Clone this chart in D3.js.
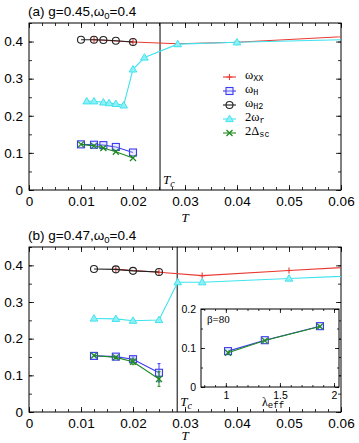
<!DOCTYPE html>
<html>
<head>
<meta charset="utf-8">
<script src="https://cdn.jsdelivr.net/npm/d3@7"></script>
<style>
  body { margin: 0; background: #fff; }
  svg { display: block; }
</style>
</head>
<body>
<div id="chart"></div>
<script>
// ---- data: panel (a) g=0.45
const aH2T = [0.01, 0.0125, 0.0143, 0.0167, 0.02];
const aH2 = [0.405, 0.405, 0.404, 0.402, 0.399];
const aXXT = [0.0125, 0.02, 0.0286, 0.04, 0.0667];
const aXX = [0.405, 0.399, 0.394, 0.398, 0.418];
const aRT = [0.0111, 0.0125, 0.0143, 0.0154, 0.0167, 0.0182, 0.02, 0.0222, 0.0286, 0.04, 0.0667];
const aR = [0.239, 0.239, 0.236, 0.234, 0.232, 0.228, 0.325, 0.357, 0.393, 0.398, 0.407];
const aH = [0.123, 0.122, 0.121, 0.116, 0.101];
const aSC = [0.123, 0.119, 0.113, 0.103, 0.086];
const aTc = 0.0252;

// ---- data: panel (b) g=0.47
const bH2T = [0.0125, 0.0167, 0.02, 0.025];
const bH2 = [0.390, 0.389, 0.385, 0.382];
const bXXT = [0.0167, 0.025, 0.0333, 0.05, 0.0667];
const bXX = [0.389, 0.381, 0.372, 0.386, 0.399];
const bRT = [0.0125, 0.0167, 0.02, 0.025, 0.0286, 0.0333, 0.05, 0.0667];
const bR = [0.255, 0.254, 0.249, 0.251, 0.354, 0.354, 0.364, 0.374];
const bH = [0.153, 0.151, 0.144, 0.107];
const bHerr = [0, 0, 0.006, 0.025];
const bSC = [0.154, 0.149, 0.137, 0.090];
const bSCerr = [0, 0.003, 0.008, 0.02];
const bTc = 0.0285;

// ---- inset (beta=80)
const lam = [1.02, 1.36, 1.87];
const insH = [0.092, 0.120, 0.156];
const insSC = [0.088, 0.119, 0.155];

const xTicks = [0, 0.01, 0.02, 0.03, 0.04, 0.05, 0.06];
const yTicks = [0, 0.1, 0.2, 0.3, 0.4];

const C = { xx: "#e83a32", h: "#3c3cf0", h2: "#222", r: "#3fe3ef", sc: "#1f8a1f" };
const FONT = "'Liberation Sans', Arial, sans-serif";

const W = 359, H = 443;
const svg = d3.select("#chart").append("svg").attr("width", W).attr("height", H);
const defs = svg.append("defs");

function marker(g, type, x, y, color) {
  if (type === "plus") {
    g.append("path").attr("d", `M${x-3},${y}H${x+3}M${x},${y-3}V${y+3}`)
      .attr("stroke", color).attr("stroke-width", 1.1);
  } else if (type === "square") {
    g.append("rect").attr("x", x-3.5).attr("y", y-3.5).attr("width", 7).attr("height", 7)
      .attr("fill", "#c8c8ff").attr("fill-opacity", 0.35).attr("stroke", color).attr("stroke-width", 1.1);
  } else if (type === "circle") {
    g.append("circle").attr("cx", x).attr("cy", y).attr("r", 3.5)
      .attr("fill", "none").attr("stroke", color).attr("stroke-width", 1.1);
  } else if (type === "tri") {
    g.append("path").attr("d", `M${x},${y-3.8}L${x+3.8},${y+2.6}L${x-3.8},${y+2.6}Z`)
      .attr("fill", "#8ff0f6").attr("stroke", color).attr("stroke-width", 1);
  } else if (type === "x") {
    g.append("path").attr("d", `M${x-3},${y-3}L${x+3},${y+3}M${x-3},${y+3}L${x+3},${y-3}`)
      .attr("stroke", color).attr("stroke-width", 1.3);
  }
}

function series(g, x, y, ts, vs, color, type, errs) {
  const pts = ts.map((t, i) => [x(t), y(vs[i])]);
  g.append("path").attr("d", d3.line()(pts)).attr("fill", "none")
    .attr("stroke", color).attr("stroke-width", 1.1);
  if (errs) {
    pts.forEach((p, i) => {
      if (!errs[i]) return;
      const y1 = y(vs[i] - errs[i]), y2 = y(vs[i] + errs[i]);
      g.append("path").attr("d", `M${p[0]},${y1}V${y2}M${p[0]-1.5},${y1}H${p[0]+1.5}M${p[0]-1.5},${y2}H${p[0]+1.5}`)
        .attr("stroke", color).attr("stroke-width", 1);
    });
  }
  pts.forEach(p => marker(g, type, p[0], p[1], color));
}

function frameAxes(g, x, y, opt) {
  const [x0, x1] = x.range(), [y0, y1] = y.range();
  [[d3.axisBottom, y0, true], [d3.axisTop, y1, false]].forEach(([mk, pos, lab]) => {
    g.append("g").attr("transform", `translate(0,${pos})`)
      .call(mk(x).tickValues(opt.xTicks).tickSize(-opt.major).tickPadding(opt.xPad)
        .tickFormat(lab ? opt.xFmt : ""))
      .call(s => s.select(".domain").remove());
    g.append("g").attr("transform", `translate(0,${pos})`)
      .call(mk(x).tickValues(opt.xMinor).tickSize(-opt.minor).tickFormat(""))
      .call(s => s.select(".domain").remove());
  });
  [[d3.axisLeft, x0, true], [d3.axisRight, x1, false]].forEach(([mk, pos, lab]) => {
    g.append("g").attr("transform", `translate(${pos},0)`)
      .call(mk(y).tickValues(opt.yTicks).tickSize(-opt.major).tickPadding(opt.yPad)
        .tickFormat(lab ? opt.yFmt : ""))
      .call(s => s.select(".domain").remove());
    g.append("g").attr("transform", `translate(${pos},0)`)
      .call(mk(y).tickValues(opt.yMinor).tickSize(-opt.minor).tickFormat(""))
      .call(s => s.select(".domain").remove());
  });
  g.selectAll(".tick line").attr("stroke", "#000").attr("stroke-width", 0.8);
  g.selectAll(".tick text").attr("fill", "#000").style("font-family", FONT).style("font-size", opt.fs + "px");
  g.append("rect").attr("x", x0).attr("y", y1).attr("width", x1 - x0).attr("height", y0 - y1)
    .attr("fill", "none").attr("stroke", "#000").attr("stroke-width", 1);
}

function tcLabel(g, px, py) {
  const t = g.append("text").attr("x", px).attr("y", py)
    .style("font-family", "'Liberation Serif', 'DejaVu Serif', serif").style("font-style", "italic").style("font-size", "13px");
  t.append("tspan").text("T");
  t.append("tspan").attr("dy", 3).style("font-size", "10px").text("c");
}

function panel(id, top, bottom, title, tLabelY, d) {
  const g = svg.append("g");
  const x = d3.scaleLinear().domain([0, 0.06]).range([29, 341]);
  const y = d3.scaleLinear().domain([0, 0.45]).range([bottom, top]);

  defs.append("clipPath").attr("id", "clip" + id).append("rect")
    .attr("x", 29).attr("y", top).attr("width", 312).attr("height", bottom - top);

  const fmt = v => v === 0 ? "0" : d3.format(".2~f")(v);
  frameAxes(g, x, y, {
    xTicks, yTicks, major: 5, minor: 3, xPad: 6, yPad: 6, fs: 13.5,
    xFmt: fmt, yFmt: v => v === 0 ? "0" : d3.format(".1f")(v),
    xMinor: d3.range(0, 0.0601, 0.0025), yMinor: d3.range(0, 0.451, 0.05)
  });

  // title
  const tt = g.append("text").attr("x", 28).attr("y", top - 7)
    .style("font-family", FONT).style("font-size", "13.5px");
  tt.append("tspan").text(title);
  tt.append("tspan").attr("dy", 3).style("font-size", "9.5px").text("0");
  tt.append("tspan").attr("dy", -3).text("=0.4");

  // T axis label
  g.append("text").attr("x", 185).attr("y", tLabelY).attr("text-anchor", "middle")
    .style("font-family", "'Liberation Serif', serif").style("font-style", "italic").style("font-size", "13px").text("T");

  // Tc line
  g.append("line").attr("x1", x(d.tc)).attr("x2", x(d.tc)).attr("y1", top).attr("y2", bottom)
    .attr("stroke", "#000").attr("stroke-width", 1);
  tcLabel(g, x(d.tc) + 3, bottom - 6);

  const pg = g.append("g").attr("clip-path", `url(#clip${id})`);
  series(pg, x, y, d.xxT, d.xx, C.xx, "plus");
  series(pg, x, y, d.hT, d.h, C.h, "square", d.hErr);
  series(pg, x, y, d.h2T, d.h2, C.h2, "circle");
  series(pg, x, y, d.rT, d.r, C.r, "tri");
  series(pg, x, y, d.hT, d.sc, C.sc, "x", d.scErr);
  return g;
}

panel("a", 23, 190, "(a) g=0.45,ω", 222, {
  tc: aTc, xxT: aXXT, xx: aXX, hT: aH2T, h: aH, h2T: aH2T, h2: aH2, rT: aRT, r: aR, sc: aSC
});
panel("b", 247, 412, "(b) g=0.47,ω", 440, {
  tc: bTc, xxT: bXXT, xx: bXX, hT: bH2T, h: bH, hErr: bHerr, h2T: bH2T, h2: bH2, rT: bRT, r: bR,
  sc: bSC, scErr: bSCerr
});

// ---- legend (panel a)
const legend = [
  { type: "plus", c: C.xx, pre: "ω", sub: "XX" },
  { type: "square", c: C.h, pre: "ω", sub: "H" },
  { type: "circle", c: C.h2, pre: "ω", sub: "H2" },
  { type: "tri", c: C.r, pre: "2ω", sub: "r" },
  { type: "x", c: C.sc, pre: "2Δ", sub: "sc" }
];
const lg = svg.append("g");
legend.forEach((e, i) => {
  const yy = 77 + i * 14;
  lg.append("line").attr("x1", 223).attr("x2", 236).attr("y1", yy).attr("y2", yy)
    .attr("stroke", e.c).attr("stroke-width", 1.1);
  marker(lg, e.type, 229.5, yy, e.c);
  const t = lg.append("text").attr("x", 245).attr("y", yy + 2)
    .style("font-family", "'Liberation Serif', 'DejaVu Serif', serif").style("font-size", "12.5px");
  t.append("tspan").text(e.pre);
  t.append("tspan").attr("dy", 1.5).style("font-family", "'Liberation Mono', monospace").style("font-size", "8.5px").text(e.sub);
});

// ---- inset (panel b)
const ig = svg.append("g");
const ix = d3.scaleLinear().domain([0.77, 2.046]).range([201, 339]);
const iy = d3.scaleLinear().domain([0, 0.2]).range([387, 309]);
ig.append("rect").attr("x", 201).attr("y", 309).attr("width", 138).attr("height", 78).attr("fill", "#fff");
frameAxes(ig, ix, iy, {
  xTicks: [1, 1.5, 2], yTicks: [0, 0.1, 0.2], major: 4, minor: 2, xPad: 5, yPad: 5, fs: 10.5,
  xFmt: d3.format("~g"), yFmt: v => v === 0 ? "0" : d3.format(".1f")(v),
  xMinor: d3.range(0.8, 2.01, 0.1), yMinor: d3.range(0, 0.201, 0.05)
});
series(ig, ix, iy, lam, insH, C.h, "square");
series(ig, ix, iy, lam, insSC, C.sc, "x");
ig.append("text").attr("x", 207).attr("y", 323)
  .style("font-family", "'Liberation Serif', serif").style("font-size", "11px").text("β=80");
const lt = ig.append("text").attr("x", 262).attr("y", 406)
  .style("font-family", "'Liberation Serif', serif").style("font-size", "12px");
lt.append("tspan").text("λ");
lt.append("tspan").attr("dy", 2).style("font-family", "'Liberation Mono', monospace").style("font-size", "9px").text("eff");
</script>
</body>
</html>
